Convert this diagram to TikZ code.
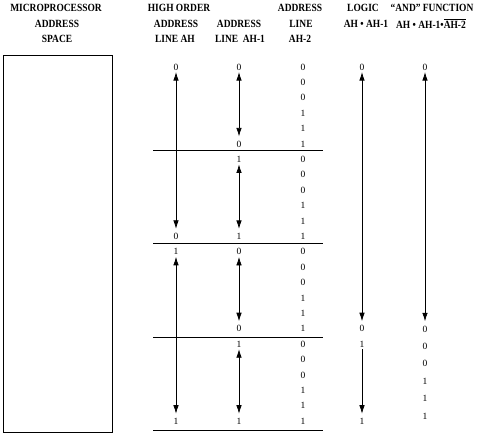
\documentclass[tikz,border=0pt]{standalone}
\usepackage{fontspec}
\setmainfont{Liberation Serif}
\newfontfamily\hdrfont{Liberation Serif}[FakeStretch=0.86]
\usepackage{tikz}
\usetikzlibrary{arrows.meta}

\begin{document}
\begin{tikzpicture}[x=1pt, y=-1pt,
    hdr/.style = {inner sep=0pt, font=\hdrfont\bfseries\fontsize{11}{12}\selectfont},
    bit/.style = {inner xsep=1pt, inner ysep=1.5pt, font=\fontsize{9.5}{10}\selectfont},
    dbl/.style = {<->, shorten >=2.5pt},
    one/.style = {->, shorten >=2.5pt},
    line width=0.75pt, >={Latex[length=8.5pt,width=5.5pt]}]
        \useasboundingbox (0,0) rectangle (479,433);
        % headers
        \node[hdr] (mp1) at (56,8) {MICROPROCESSOR};
        \node[hdr] (mp2) at (57,23.5) {ADDRESS};
        \node[hdr] (mp3) at (57,39) {SPACE};
        \node[hdr] (ho) at (179,8) {HIGH ORDER};
        \node[hdr] (ah1) at (176,23.5) {ADDRESS};
        \node[hdr] (ah2) at (175,39) {LINE AH};
        \node[hdr] (ahm1) at (239,23.5) {ADDRESS};
        \node[hdr] (ahm2) at (240,39) {LINE\ \ AH-1};
        \node[hdr] (ahn1) at (300,8) {ADDRESS};
        \node[hdr] (ahn2) at (301,23.5) {LINE};
        \node[hdr] (ahn3) at (300,39) {AH-2};
        \node[hdr] (lg1) at (363,8) {LOGIC};
        \node[hdr] (lg2) at (366,23.5) {AH • AH-1};
        \node[hdr] (fn1) at (432,8) {“AND” FUNCTION};
        \node[hdr] (fn2) at (431,23.5) {AH • AH-1•$\overline{\mbox{AH-2}}$};
        % address space
        \draw[line width=0.9pt] (3.5,55) rectangle (112.5,432);
        \foreach \y in {150,243,337,430.5}
            \draw (153,\y) -- (323,\y);
        % line AH-2
        \foreach \g in {0,...,3}
            \foreach \v [count=\i from 0] in {0,0,0,1,1,1}
                \node[bit] (c\g\i) at (303, {67+15.4*(6*\g+\i)}) {\v};
        % line AH
        \node[bit] (a0) at (176,67) {0};
        \node[bit] (a11) at (176,236.4) {0};
        \node[bit] (a12) at (176,251.8) {1};
        \node[bit] (a23) at (176,421.2) {1};
        % line AH-1
        \node[bit] (b0) at (239,67) {0};
        \node[bit] (b5) at (239,144) {0};
        \node[bit] (b6) at (239,159.4) {1};
        \node[bit] (b11) at (239,236.4) {1};
        \node[bit] (b12) at (239,251.8) {0};
        \node[bit] (b17) at (239,328.8) {0};
        \node[bit] (b18) at (239,344.2) {1};
        \node[bit] (b23) at (239,421.2) {1};
        % logic AH.AH-1
        \node[bit] (l0) at (362,67) {0};
        \node[bit] (l17) at (362,328.8) {0};
        \node[bit] (l18) at (362,344.2) {1};
        \node[bit] (l23) at (362,421.2) {1};
        % and function
        \node[bit] (f0) at (425,67) {0};
        \foreach \v [count=\i] in {0,0,0,1,1,1}
            \node[bit] (f\i) at (425, {311.5+17.4*\i}) {\v};
        \path (a0) edge[dbl] (a11);
        \path (a12) edge[dbl] (a23);
        \path (b0) edge[dbl] (b5);
        \path (b6) edge[dbl] (b11);
        \path (b12) edge[dbl] (b17);
        \path (b18) edge[dbl] (b23);
        \path (l0) edge[dbl] (l17);
        \path (l18) edge[one] (l23);
        \path (f0) edge[dbl] (f1);
\end{tikzpicture}
\end{document}
